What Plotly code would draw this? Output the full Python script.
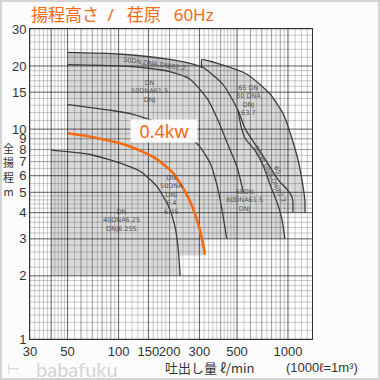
import math
import plotly.graph_objects as go

# ---------------- data ----------------
X_MIN, X_MAX = 30, 1386          # flow (L/min) at frame edges
Y_MIN, Y_MAX = 1, 30             # head (m)

x_tick_vals = [30, 50, 100, 150, 200, 300, 500, 1000]
x_tick_extra = [1500]
y_tick_vals = [1, 2, 3, 4, 5, 6, 7, 8, 9, 10, 15, 20, 30]

# 40DN 0.25kW
q_025 = [40, 68, 107, 134, 168, 197, 215, 225, 231]
h_025 = [7.94, 7.57, 6.8, 6.3, 5.35, 4.29, 3.45, 2.67, 2.0]
h_025_bottom = 2.0
# 50DN 0.4kW (orange)
q_04 = [50, 72, 114, 163, 209, 233, 264, 296, 316, 324]
h_04 = [9.55, 9.12, 8.33, 7.32, 6.21, 5.45, 4.53, 3.51, 2.82, 2.53]
h_04_bottom = 2.5
# 50DN 0.75kW
q_075 = [50, 90, 120, 180, 240, 300, 347, 380, 406, 435]
h_075 = [13.1, 12.3, 11.8, 10.6, 9.7, 8.3, 6.9, 5.45, 4.22, 3.0]
h_075_bottom = 3.0
# 50DN 1.5kW
q_15 = [50, 100, 150, 200, 264, 333, 381, 443, 500, 545]
h_15 = [20.3, 20.0, 19.5, 18.8, 17.3, 14.0, 11.3, 8.4, 6.6, 5.0]
h_15_bottom = 5.0
# 50DN / 65DN / 80DN 2.2kW
q_22 = [50, 100, 200, 264, 317, 414, 507, 560, 620, 740, 880, 980, 1050, 1069, 1069]
h_22 = [23.2, 22.8, 21.5, 20.6, 19.6, 16.3, 12.3, 10.0, 8.8, 7.1, 5.7, 5.2, 4.8, 4.5, 4.0]
h_22_bottom = 4.0
# 65DN / 80DN 1.5kW
q_6580_15 = [507, 530, 560, 640, 720, 783, 857, 918, 960]
h_6580_15 = [12.3, 10.2, 9.0, 7.9, 6.6, 5.45, 4.53, 3.78, 3.0]
q_6580_15_left = 400
h_6580_15_bottom = 3.0
# 65DN / 80DN 3.7kW
q_37 = [310, 310, 396, 570, 783, 938, 1052, 1150, 1230, 1260, 1260]
h_37 = [19.6, 21.4, 20.4, 18.3, 14.7, 11.8, 9.1, 7.05, 5.27, 4.5, 4.0]
h_37_bottom = 4.0
band_q_max = 264

# in-chart labels: (text, Q, H, angle)
model_labels = [
    ("50DN,DNA,DNJ62.2", 162, 20.5, 8),
    ("DN<br>50DNA61.5<br>DNJ", 153, 15.1, 0),
    ("DN<br>50DNA<br>DNJ<br>6.4<br>6.45", 206, 4.83, 0),
    ("DN<br>40DNA6.25<br>DNJ6.25S", 104.5, 3.67, 0),
    ("65 DN<br>80 DNA<br>DNJ<br>63.7", 588, 13.7, 0),
    ("65<br>80DN,DNA,DNJ62.2", 827, 6.28, 63),
    ("65DN<br>80DNA61.5<br>DNJ", 556, 4.57, 0),
]

# grid values of the log paper
x_minor = (list(range(30, 50, 2)) + list(range(50, 100, 5)) + list(range(100, 200, 10))
           + list(range(200, 500, 20)) + list(range(500, 1000, 50)) + list(range(1000, 1400, 100)))
x_mid = list(range(30, 100, 10)) + list(range(100, 1000, 100)) + [1000]
x_dark = [40, 50, 100, 150, 300, 500, 1000]
y_minor = ([round(1 + 0.1 * i, 2) for i in range(10)] + [round(2 + 0.2 * i, 2) for i in range(15)]
           + [round(5 + 0.5 * i, 2) for i in range(10)] + list(range(10, 20)) + list(range(20, 30, 2)))
y_mid = list(range(1, 11)) + [20, 30]
y_dark = [2, 3, 4, 5, 6, 10, 15, 20]

# ---------------- figure ----------------
W, H = 380, 380
ML, MR, MT, MB = 30, 68, 29, 41
PW, PH = W - ML - MR, H - MT - MB

def px_x(px):
    return (px - ML) / PW

def px_y(py):
    return (H - MB - py) / PH

FILL = "#d9d9d9"
BAND = "#c6c6c6"
CURVE = "#3c3c3c"
ORANGE = "#f26a12"

fig = go.Figure()

def region(qs, hs, color):
    fig.add_trace(go.Scatter(x=qs, y=hs, mode="lines", fill="toself", fillcolor=color,
                             line=dict(width=0, color=color), hoverinfo="skip", showlegend=False))

region(q_025 + [q_025[-1], q_025[0]], h_025 + [h_025_bottom, h_025_bottom], FILL)
region(q_04 + [q_04[-1], q_04[0]], h_04 + [h_04_bottom, h_04_bottom], FILL)
region(q_075 + [q_075[-1], q_075[0]], h_075 + [h_075_bottom, h_075_bottom], FILL)
region(q_15 + [q_15[-1], q_15[0]], h_15 + [h_15_bottom, h_15_bottom], FILL)
region(q_22 + [q_22[0]], h_22 + [h_22_bottom], FILL)
region([q_6580_15_left] + q_6580_15 + [q_6580_15_left],
       [h_6580_15[0]] + h_6580_15 + [h_6580_15_bottom], FILL)
region(q_37 + [q_37[0]], h_37 + [h_37_bottom], FILL)

# darker band between the two top curves
bq1 = [q for q in q_22 if q <= band_q_max]
bh1 = [h for q, h in zip(q_22, h_22) if q <= band_q_max]
bq2 = [q for q in q_15 if q <= band_q_max]
bh2 = [h for q, h in zip(q_15, h_15) if q <= band_q_max]
region(bq1 + bq2[::-1], bh1 + bh2[::-1], BAND)

def vlines(vals):
    xs, ys = [], []
    for v in vals:
        xs += [v, v, None]
        ys += [Y_MIN, Y_MAX, None]
    return xs, ys

def hlines(vals):
    xs, ys = [], []
    for v in vals:
        xs += [X_MIN, X_MAX, None]
        ys += [v, v, None]
    return xs, ys

def grid(xv, yv, color):
    ax, ay = vlines(xv)
    bx, by = hlines(yv)
    fig.add_trace(go.Scatter(x=ax + bx, y=ay + by, mode="lines", line=dict(width=1, color=color),
                             hoverinfo="skip", showlegend=False))

xm = [v for v in x_mid if v not in x_dark]
xn = [v for v in x_minor if v not in x_mid and v not in x_dark]
ym = [v for v in y_mid if v not in y_dark]
yn = [v for v in y_minor if v not in y_mid and v not in y_dark]
grid(xn, yn, "rgba(0,0,0,0.2)")
grid(xm, ym, "rgba(0,0,0,0.38)")
grid(x_dark, y_dark, "rgba(0,0,0,0.62)")

def curve(qs, hs, color=CURVE, width=1.3):
    fig.add_trace(go.Scatter(x=qs, y=hs, mode="lines",
                             line=dict(width=width, color=color, shape="spline", smoothing=0.6),
                             hoverinfo="skip", showlegend=False))

curve(q_025, h_025)
curve(q_075, h_075)
curve(q_15, h_15)
curve(q_22, h_22)
curve(q_6580_15, h_6580_15)
curve(q_37, h_37)
curve(q_04, h_04, ORANGE, 2.6)

lg = math.log10
ann = []
for text, q, h, ang in model_labels:
    ann.append(dict(x=lg(q), y=lg(h), xref="x", yref="y", text=text, showarrow=False,
                    textangle=ang, font=dict(family="DejaVu Sans", size=6.5, color="#555555"),
                    align="center"))

ann.append(dict(x=lg(185), y=lg(9.8), xref="x", yref="y", text="0.4kw", showarrow=False,
                font=dict(family="Noto Sans", size=18, color=ORANGE),
                bgcolor="rgba(255,255,255,0.92)", width=64, height=20))

for v in x_tick_extra:
    ann.append(dict(x=lg(v), y=px_y(352), xref="x", yref="paper", text=str(v), showarrow=False,
                    xanchor="center", yanchor="middle",
                    font=dict(family="Liberation Sans", size=13, color="#333333")))

def paper_text(px, py, text, font, xanchor="center"):
    ann.append(dict(x=px_x(px), y=px_y(py), xref="paper", yref="paper", text=text,
                    showarrow=False, xanchor=xanchor, yanchor="middle", font=font))

paper_text(29, 14, "揚程高さ\u2002/\u2002 荏原\u2002 60Hz",
           dict(family="Noto Sans, Noto Sans CJK JP", size=17, color=ORANGE), xanchor="left")
paper_text(8, 169, "全<br>揚<br>程<br>m", dict(family="Noto Sans CJK JP", size=11, color="#333333"))
paper_text(210, 367, "吐出し量 ℓ/min", dict(family="Noto Sans CJK JP", size=13, color="#333333"))
paper_text(322, 367, "(1000ℓ=1m³)", dict(family="Liberation Sans", size=13, color="#333333"))
paper_text(77, 369, "babafuku", dict(family="Lato", size=20, color="#d4d4d4"))
paper_text(13, 369, "⊢", dict(family="DejaVu Sans", size=15, color="#d4d4d4"))

fig.update_layout(
    width=W, height=H, margin=dict(l=ML, r=MR, t=MT, b=MB, autoexpand=False),
    paper_bgcolor="#fcfcfc", plot_bgcolor="#fdfdfd",
    showlegend=False, annotations=ann,
    shapes=[dict(type="rect", xref="paper", yref="paper", x0=px_x(1), x1=px_x(379),
                 y0=px_y(379), y1=px_y(1), line=dict(color="#d4d4d4", width=2))],
    font=dict(family="Liberation Sans", size=13, color="#333333"),
)
fig.update_xaxes(type="log", range=[lg(X_MIN), lg(X_MAX)], tickvals=x_tick_vals,
                 ticktext=[str(v) for v in x_tick_vals], showgrid=False, zeroline=False,
                 showline=True, mirror=True, linecolor="#333333", linewidth=1, ticks="",
                 tickangle=0, automargin=False,
                 tickfont=dict(size=13, color="#333333"))
fig.update_yaxes(type="log", range=[lg(Y_MIN), lg(Y_MAX)], tickvals=y_tick_vals,
                 ticktext=[str(v) for v in y_tick_vals], showgrid=False, zeroline=False,
                 showline=True, mirror=True, linecolor="#333333", linewidth=1, ticks="",
                 automargin=False, ticklabelstandoff=0,
                 tickfont=dict(size=13, color="#333333"))

fig.write_html("out.html", config={"displayModeBar": False},
               post_script="document.body.style.margin='0';document.body.style.overflow='hidden';")
